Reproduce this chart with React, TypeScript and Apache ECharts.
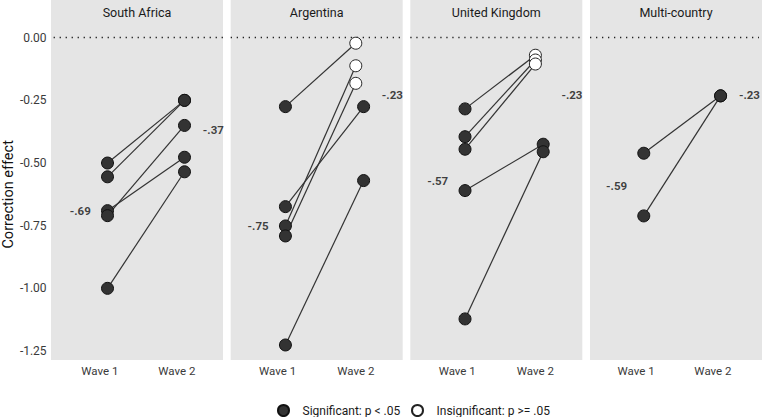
import React, { useEffect, useRef } from 'react';
import * as echarts from 'echarts';

// ---- Data ----
const countries = ['South Africa', 'Argentina', 'United Kingdom', 'Multi-country'];
const waveLabels = ['Wave 1', 'Wave 2'];

// paired estimates (wave 1 -> wave 2) per country
const southAfricaW1 = [-0.5, -0.555, -0.69, -0.71, -1.0];
const southAfricaW2 = [-0.25, -0.25, -0.477, -0.35, -0.535];
const southAfricaSigW2 = [true, true, true, true, true];

const argentinaW1 = [-0.275, -0.674, -0.751, -0.791, -1.226];
const argentinaW2 = [-0.022, -0.275, -0.112, -0.182, -0.57];
const argentinaSigW2 = [false, true, false, false, true];

const ukW1 = [-0.284, -0.395, -0.445, -0.61, -1.122];
const ukW2 = [-0.07, -0.089, -0.105, -0.425, -0.455];
const ukSigW2 = [false, false, false, true, true];

const multiW1 = [-0.461, -0.711];
const multiW2 = [-0.232, -0.232];
const multiSigW2 = [true, true];

// mean labels
const meanW1 = [-0.69, -0.75, -0.57, -0.59];
const meanW2 = [-0.37, -0.23, -0.23, -0.23];

const legendNames = ['Significant: p < .05', 'Insignificant: p >= .05'];

const panels = [
  { w1: southAfricaW1, w2: southAfricaW2, sig: southAfricaSigW2 },
  { w1: argentinaW1, w2: argentinaW2, sig: argentinaSigW2 },
  { w1: ukW1, w2: ukW2, sig: ukSigW2 },
  { w1: multiW1, w2: multiW2, sig: multiSigW2 },
];

// ---- Layout ----
const panelLefts = [51, 230.7, 410.3, 590];
const panelWidth = 172;
const gridTop = 37.7;
const gridBottom = 66;
const panelBottom = 360;
const NUDGE = 0.1;
const FONT = 'Roboto, "Noto Sans", sans-serif';
const legendLefts = [277, 411];

const fmtMean = (v: number) => v.toFixed(2).replace('0.', '.');

export default function App() {
  const ref = useRef<HTMLDivElement>(null);

  useEffect(() => {
    if (!ref.current) return;
    document.body.style.margin = '0';
    const chart = echarts.init(ref.current, undefined, { renderer: 'svg' });

    const grid: any[] = [];
    const xAxis: any[] = [];
    const yAxis: any[] = [];
    const series: any[] = [];
    const graphic: any[] = [];

    panels.forEach((p, i) => {
      grid.push({ left: panelLefts[i], width: panelWidth, top: gridTop, bottom: gridBottom });
      xAxis.push({
        type: 'value',
        gridIndex: i,
        min: 0.4,
        max: 2.6,
        interval: 0.2,
        axisLine: { show: false },
        axisTick: { show: false },
        splitLine: { show: false },
        axisLabel: {
          margin: 14,
          color: '#3a3a3a',
          fontSize: 11.5,
          fontFamily: FONT,
          formatter: (v: number) =>
            Math.abs(v - 1) < 1e-6 ? waveLabels[0] : Math.abs(v - 2) < 1e-6 ? waveLabels[1] : '',
        },
      });
      yAxis.push({
        type: 'value',
        gridIndex: i,
        min: -1.25,
        max: 0,
        interval: 0.25,
        axisLine: { show: false },
        axisTick: { show: false },
        splitLine: { show: false },
        axisLabel: {
          show: i === 0,
          margin: 7,
          color: '#3a3a3a',
          fontSize: 12,
          fontFamily: FONT,
          formatter: (v: number) => v.toFixed(2),
        },
        name: i === 0 ? 'Correction effect' : '',
        nameLocation: 'middle',
        nameGap: 35,
        nameTextStyle: { color: '#111111', fontSize: 14.5, fontFamily: FONT },
      });

      graphic.push({
        type: 'rect',
        z: -10,
        silent: true,
        shape: { x: panelLefts[i], y: 0, width: panelWidth, height: panelBottom },
        style: { fill: '#e5e5e5' },
      });
      graphic.push({
        type: 'text',
        z: 10,
        silent: true,
        style: {
          text: countries[i],
          x: panelLefts[i] + panelWidth / 2,
          y: 12,
          textAlign: 'center',
          textVerticalAlign: 'middle',
          fill: '#1a1a1a',
          font: `12.5px ${FONT}`,
        },
      });

      const xw1 = 1 + NUDGE;
      const x2 = (s: boolean) => (s ? 2 + NUDGE : 2);

      series.push({
        type: 'lines',
        coordinateSystem: 'cartesian2d',
        xAxisIndex: i,
        yAxisIndex: i,
        silent: true,
        z: 2,
        lineStyle: { color: '#333333', width: 1.2, opacity: 1 },
        data: p.w1.map((v, k) => ({ coords: [[xw1, v], [x2(p.sig[k]), p.w2[k]]] })),
      });

      const sigData: number[][] = [];
      const insigData: number[][] = [];
      p.w1.forEach((v) => sigData.push([xw1, v]));
      p.w2.forEach((v, k) => (p.sig[k] ? sigData : insigData).push([x2(p.sig[k]), v]));

      series.push({
        type: 'scatter',
        name: legendNames[0],
        xAxisIndex: i,
        yAxisIndex: i,
        symbol: 'circle',
        symbolSize: 12,
        z: 4,
        silent: true,
        itemStyle: { color: '#333333', borderColor: '#111111', borderWidth: 1, opacity: 1 },
        data: sigData,
        markLine: {
          silent: true,
          symbol: 'none',
          label: { show: false },
          lineStyle: { color: '#222222', width: 1.3, type: [1.3, 4.7] },
          data: [{ yAxis: 0 }],
          z: 1,
        },
      });
      series.push({
        type: 'scatter',
        name: legendNames[1],
        xAxisIndex: i,
        yAxisIndex: i,
        symbol: 'circle',
        symbolSize: 12,
        z: 5,
        silent: true,
        itemStyle: { color: '#ffffff', borderColor: '#222222', borderWidth: 1, opacity: 1 },
        data: insigData,
      });
      series.push({
        type: 'scatter',
        xAxisIndex: i,
        yAxisIndex: i,
        symbol: 'circle',
        symbolSize: 0,
        silent: true,
        z: 6,
        itemStyle: { color: 'rgba(0,0,0,0)' },
        label: {
          show: true,
          color: '#111111',
          fontSize: 11.5,
          fontWeight: 'bold',
          fontFamily: FONT,
          formatter: (d: any) => fmtMean(d.value[1]),
        },
        data: [
          { value: [1, meanW1[i]], label: { position: 'left', distance: 9 } },
          { value: [2, meanW2[i]], label: { position: 'right', distance: 26 } },
        ],
      });
    });

    const legend = legendNames.map((n, k) => ({
      data: [n],
      left: legendLefts[k],
      top: 404,
      padding: 0,
      itemWidth: 28,
      itemHeight: 11,
      icon: 'circle',
      selectedMode: false,
      textStyle: { color: '#1a1a1a', fontSize: 12, fontFamily: FONT },
    }));

    chart.setOption({
      animation: false,
      backgroundColor: '#ffffff',
      textStyle: { fontFamily: FONT },
      grid,
      xAxis,
      yAxis,
      series,
      graphic,
      legend,
    });

    return () => chart.dispose();
  }, []);

  return (
    <div
      ref={ref}
      style={{ position: 'absolute', left: 0, top: 0, width: 762, height: 417 }}
    />
  );
}
